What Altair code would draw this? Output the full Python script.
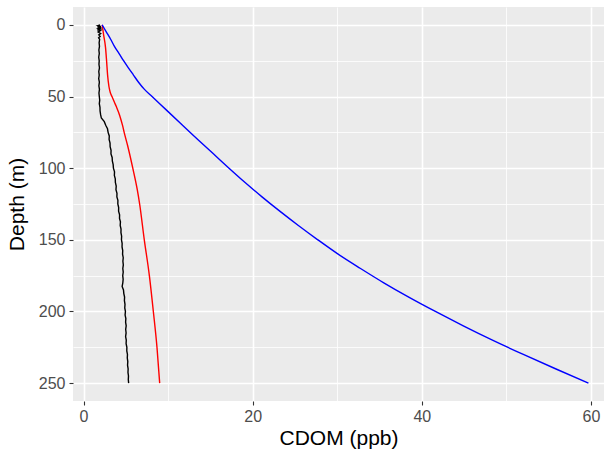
import altair as alt
import pandas as pd

# ---- data ----
black_depth = [0, 0.5, 1.0, 1.5, 2.0, 2.5, 3.0, 3.5, 4.0, 5.0, 6.0, 7.0, 8.0, 9.0, 10,
               12.5, 15, 17.5, 20, 22.5, 25, 27.5, 30, 32.5, 35, 37.5, 40, 42.5, 45, 47.5,
               50, 52.5, 55, 57.5, 60, 62.5, 65, 67.5, 70, 72.5, 75, 77.5, 80, 82.5, 85,
               87.5, 90, 92.5, 95, 97.5, 100, 102.5, 105, 107.5, 110, 112.5, 115, 117.5,
               120, 122.5, 125, 127.5, 130, 132.5, 135, 137.5, 140, 142.5, 145, 147.5,
               150, 152.5, 155, 157.5, 160, 162.5, 165, 167.5, 170, 172.5, 175, 177.5,
               180, 182.5, 185, 187.5, 190, 192.5, 195, 197.5, 200, 202.5, 205, 207.5,
               210, 212.5, 215, 217.5, 220, 222.5, 225, 227.5, 230, 232.5, 235, 237.5,
               240, 242.5, 245, 247.5, 250]
black_cdom = [1.95, 1.70, 2.05, 1.65, 2.10, 1.75, 2.00, 1.62, 1.98, 1.72, 2.02, 1.80, 1.96, 1.78, 1.90,
              1.84, 1.88, 1.81, 1.86, 1.79, 1.85, 1.82, 1.88, 1.80, 1.85, 1.79, 1.87, 1.81, 1.88, 1.82,
              1.86, 1.91, 1.86, 1.94, 1.95, 2.01, 2.10, 2.45, 2.62, 2.83, 2.90, 3.04, 3.02, 3.13, 3.14,
              3.25, 3.24, 3.38, 3.40, 3.50, 3.53, 3.66, 3.64, 3.75, 3.76, 3.86, 3.83, 3.95, 3.94,
              4.06, 4.05, 4.15, 4.14, 4.26, 4.25, 4.36, 4.33, 4.43, 4.42, 4.50, 4.48, 4.56, 4.55,
              4.63, 4.61, 4.69, 4.65, 4.70, 4.64, 4.69, 4.63, 4.68, 4.64, 4.56, 4.72, 4.76, 4.85,
              4.83, 4.90, 4.87, 4.95, 4.91, 5.00, 4.97, 5.04, 4.98, 5.03, 4.97, 5.05, 5.03, 5.12,
              5.11, 5.19, 5.17, 5.23, 5.20, 5.27, 5.25, 5.31, 5.29, 5.33, 5.33]

red_depth = [0, 7, 16, 25, 35, 43, 47, 50, 54, 57, 63, 70, 75, 84, 100, 115, 125,
             150, 175, 200, 225, 250]
red_cdom = [2.2, 2.37, 2.6, 2.72, 2.84, 3.0, 3.15, 3.36, 3.65, 3.87, 4.26, 4.6, 4.8, 5.2,
            5.82, 6.35, 6.63, 7.18, 7.78, 8.25, 8.68, 9.0]

blue_depth = [0, 5, 10, 15, 20, 25, 30, 35, 40, 45, 50, 60, 70, 80, 90, 100, 110,
              120, 130, 140, 150, 160, 170, 180, 190, 200, 210, 220, 230, 240, 250]
blue_cdom = [2.2, 2.7, 3.2, 3.65, 4.2, 4.73, 5.3, 5.9, 6.5, 7.2, 8.1, 9.9, 11.7, 13.5,
             15.35, 17.2, 19.1, 21.1, 23.2, 25.4, 27.7, 30.1, 32.75, 35.5, 38.45, 41.6,
             44.9, 48.35, 52.0, 55.8, 59.7]

series_names = ["black", "red", "blue"]
series_colors = ["#000000", "#FF0000", "#0000FF"]

x_ticks = [0, 10, 20, 30, 40, 50, 60]
y_ticks = [0, 25, 50, 75, 100, 125, 150, 175, 200, 225, 250]

rows = []
for name, ds, vs in [("black", black_depth, black_cdom),
                     ("red", red_depth, red_cdom),
                     ("blue", blue_depth, blue_cdom)]:
    for d, v in zip(ds, vs):
        rows.append({"series": name, "depth": d, "cdom": v})
df = pd.DataFrame(rows)

FONT = "Liberation Sans"

x_axis = alt.Axis(
    values=x_ticks,
    title="CDOM (ppb)",
    labelExpr="datum.value % 20 === 0 ? datum.label : ''",
    gridColor="#FFFFFF",
    gridWidth={"condition": {"test": "datum.value % 20 === 0", "value": 1.6}, "value": 0.8},
    tickOpacity={"condition": {"test": "datum.value % 20 === 0", "value": 1}, "value": 0},
    domain=False,
    tickColor="#333333",
    tickSize=4,
    tickWidth=1.1,
    labelPadding=3,
    labelFontSize=16,
    labelColor="#4D4D4D",
    labelFont=FONT,
    titleFont=FONT,
    titleFontSize=21,
    titleFontWeight="normal",
    titleColor="#000000",
    titleBaseline="alphabetic",
    titleY=43,
)

y_axis = alt.Axis(
    values=y_ticks,
    title="Depth (m)",
    labelExpr="datum.value % 50 === 0 ? datum.label : ''",
    gridColor="#FFFFFF",
    gridWidth={"condition": {"test": "datum.value % 50 === 0", "value": 1.6}, "value": 0.8},
    tickOpacity={"condition": {"test": "datum.value % 50 === 0", "value": 1}, "value": 0},
    domain=False,
    tickColor="#333333",
    tickSize=4,
    tickWidth=1.1,
    labelPadding=4,
    labelFontSize=16,
    labelColor="#4D4D4D",
    labelFont=FONT,
    titleFont=FONT,
    titleFontSize=21,
    titleFontWeight="normal",
    titleColor="#000000",
    titleAngle=270,
    titleBaseline="alphabetic",
    titleX=-50,
)

x_enc = alt.X("cdom:Q", scale=alt.Scale(domain=[-1.25, 61.54], nice=False, zero=False), axis=x_axis)
y_enc = alt.Y("depth:Q", scale=alt.Scale(domain=[-12.5, 262.5], nice=False, zero=False, reverse=True), axis=y_axis)
c_enc = alt.Color("series:N", scale=alt.Scale(domain=series_names, range=series_colors), legend=None)

base = alt.Chart(df).encode(x=x_enc, y=y_enc, color=c_enc, detail="series:N", order="depth:Q")

black_layer = base.transform_filter("datum.series === 'black'").mark_line(strokeWidth=1.4)
smooth_layer = base.transform_filter("datum.series !== 'black'").mark_line(
    strokeWidth=1.4, interpolate="monotone")

chart = alt.layer(black_layer, smooth_layer).properties(
    width=531,
    height=394,
    autosize=alt.AutoSizeParams(type="none"),
    padding={"left": 73, "top": 7, "right": 5, "bottom": 49},
    background="#FFFFFF",
).configure_view(
    fill="#EBEBEB",
    stroke=None,
)

chart.save("out.html", embed_options={"renderer": "svg", "actions": False})
